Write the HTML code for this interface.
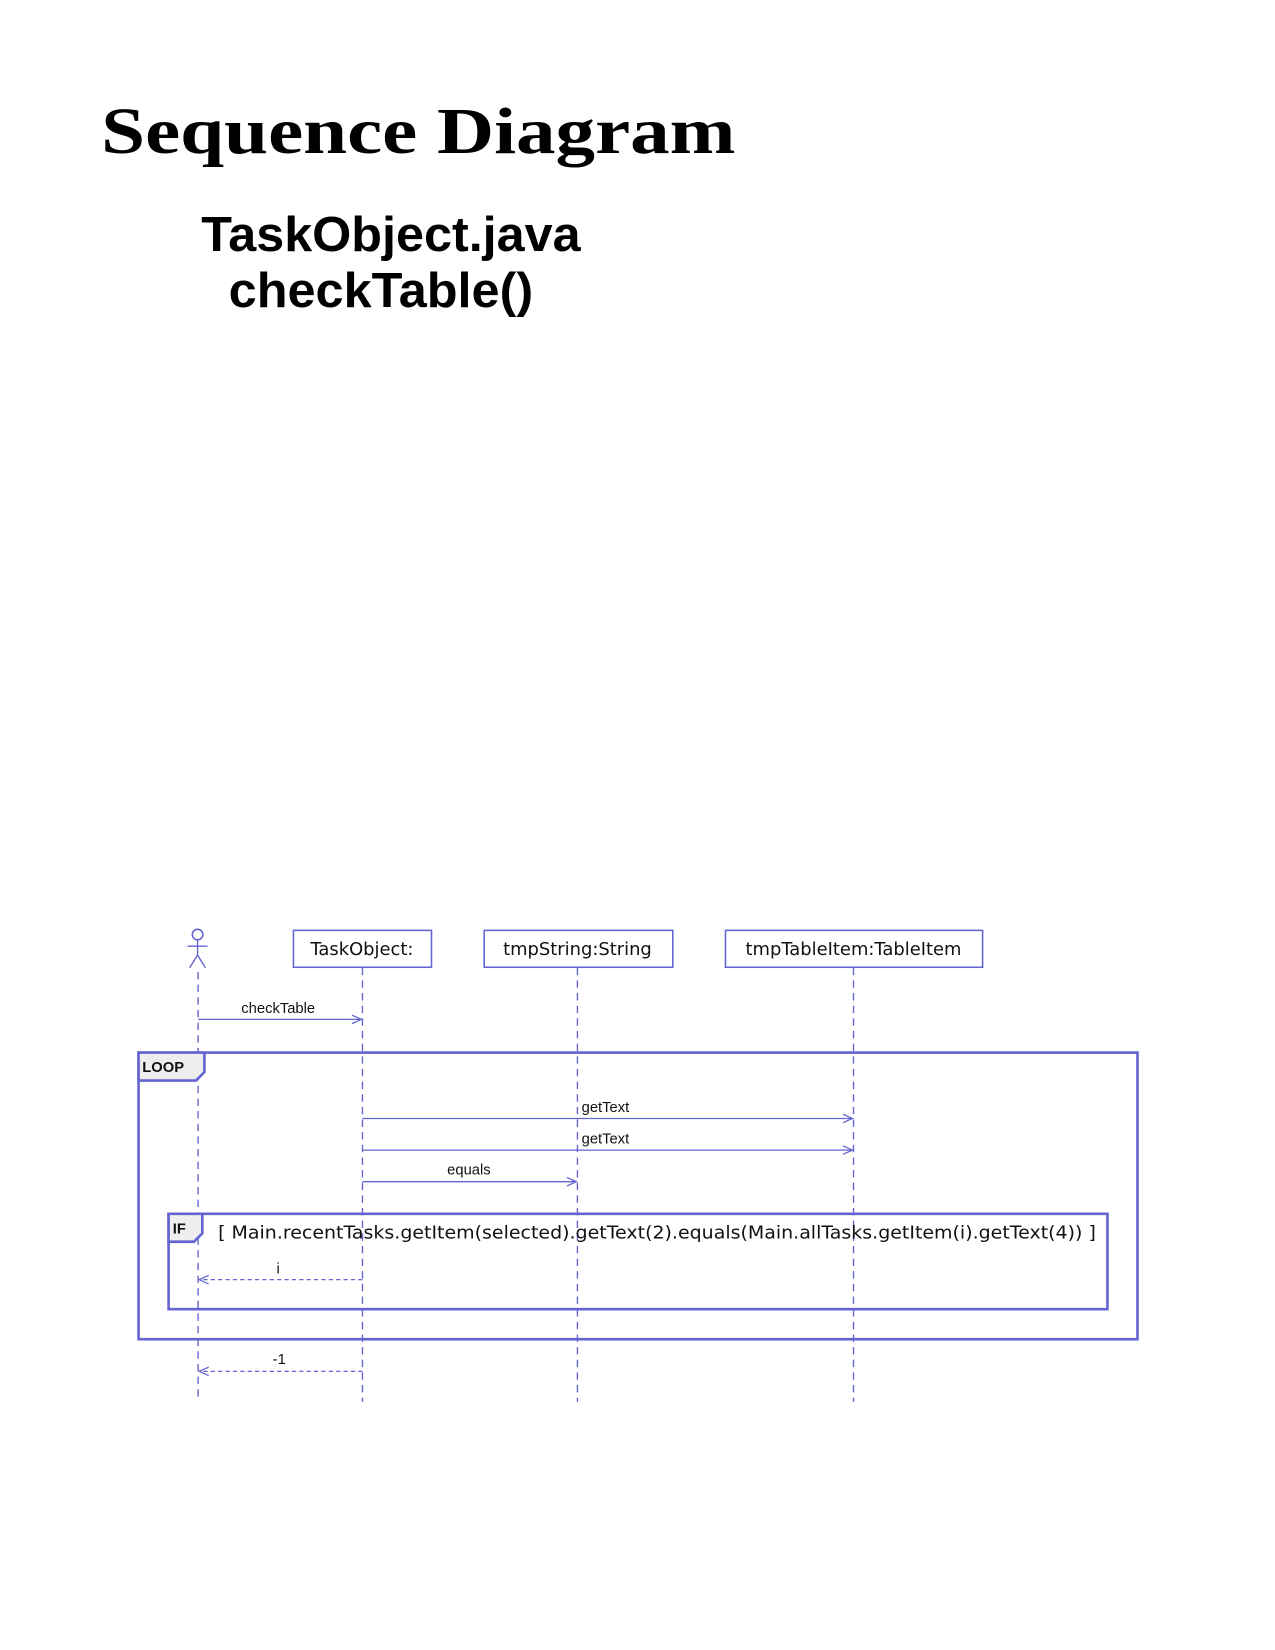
<!DOCTYPE html>
<html><head><meta charset="utf-8"><style>
html,body{margin:0;padding:0;background:#fff;}
svg{display:block;}
</style></head><body>
<svg width="1275" height="1650" viewBox="0 0 1210 1565" xmlns="http://www.w3.org/2000/svg">
<rect width="1210" height="1565" fill="#fff"/>
<text x="96" y="145" font-family="Liberation Serif, serif" font-weight="bold" font-size="62" textLength="602" lengthAdjust="spacingAndGlyphs">Sequence Diagram</text>
<text x="191" y="238" font-family="Liberation Sans, sans-serif" font-weight="bold" font-size="47" textLength="360" lengthAdjust="spacingAndGlyphs">TaskObject.java</text>
<text x="217" y="291" font-family="Liberation Sans, sans-serif" font-weight="bold" font-size="47" textLength="289" lengthAdjust="spacingAndGlyphs">checkTable()</text>

<g stroke="#6464d2" fill="none">
<!-- actor -->
<circle cx="187.5" cy="886.5" r="5" stroke-width="1.5"/>
<line x1="187.5" y1="891.5" x2="187.5" y2="906" stroke-width="1.3"/>
<line x1="178" y1="897.5" x2="197" y2="897.5" stroke-width="1.3"/>
<polyline points="180,918 187.5,906 195,918" stroke-width="1.3"/>
<!-- boxes -->
<rect x="278.5" y="882.5" width="131" height="35" stroke-width="1.5"/>
<rect x="459.5" y="882.5" width="179" height="35" stroke-width="1.5"/>
<rect x="688.5" y="882.5" width="244" height="35" stroke-width="1.5"/>
<!-- lifelines -->
<g stroke-dasharray="7,5" stroke-width="1.3">
<line x1="188" y1="922" x2="188" y2="1330"/>
<line x1="344" y1="918" x2="344" y2="1330"/>
<line x1="548" y1="918" x2="548" y2="1330"/>
<line x1="810" y1="918" x2="810" y2="1330"/>
</g>
<!-- messages -->
<g stroke-width="1.2">
<line x1="188" y1="967" x2="343" y2="967"/><polyline points="334,963 343,967 334,971"/>
<line x1="344" y1="1061" x2="809" y2="1061"/><polyline points="800,1057 809,1061 800,1065"/>
<line x1="344" y1="1091" x2="809" y2="1091"/><polyline points="800,1087 809,1091 800,1095"/>
<line x1="344" y1="1121" x2="547" y2="1121"/><polyline points="538,1117 547,1121 538,1125"/>
<line x1="344" y1="1214" x2="189" y2="1214" stroke-dasharray="4,3"/><polyline points="198,1210 189,1214 198,1218"/>
<line x1="344" y1="1301" x2="189" y2="1301" stroke-dasharray="4,3"/><polyline points="198,1297 189,1301 198,1305"/>
</g>
<!-- frames -->
<rect x="131.5" y="998.5" width="948" height="272" stroke-width="2.5"/>
<path d="M131.5,998.5 H194 V1017 L186,1025 H131.5 Z" fill="#eeeeee" stroke-width="2.5"/>
<rect x="160" y="1151.5" width="891" height="90.5" stroke-width="2.5"/>
<path d="M160,1151.5 H192 V1170 L184,1178 H160 Z" fill="#eeeeee" stroke-width="2.5"/>
</g>

<g font-family="DejaVu Sans, sans-serif" fill="#111">
<text x="343.5" y="906" font-size="17" text-anchor="middle">TaskObject:</text>
<text x="548" y="906" font-size="17" text-anchor="middle">tmpString:String</text>
<text x="810" y="906" font-size="17" text-anchor="middle">tmpTableItem:TableItem</text>
<text x="207" y="1175" font-size="17" textLength="833" lengthAdjust="spacingAndGlyphs">[ Main.recentTasks.getItem(selected).getText(2).equals(Main.allTasks.getItem(i).getText(4)) ]</text>
</g>
<g font-family="Liberation Sans, sans-serif" fill="#111" font-size="14">
<text x="264" y="961" text-anchor="middle">checkTable</text>
<text x="552" y="1055">getText</text>
<text x="552" y="1085">getText</text>
<text x="445" y="1114" text-anchor="middle">equals</text>
<text x="264" y="1208" text-anchor="middle">i</text>
<text x="265" y="1294" text-anchor="middle">-1</text>
<text x="135" y="1017" font-weight="bold">LOOP</text>
<text x="164" y="1170" font-weight="bold">IF</text>
</g>
</svg>
</body></html>
